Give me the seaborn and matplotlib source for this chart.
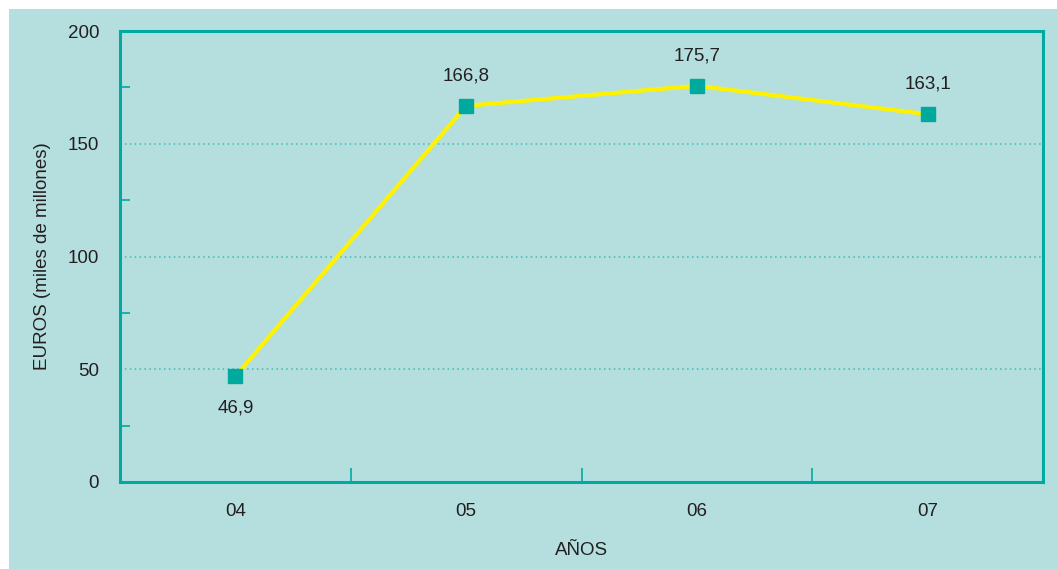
import matplotlib
matplotlib.use("Agg")
import matplotlib.pyplot as plt
import matplotlib.patches as mpatches
from matplotlib.ticker import FixedLocator
import seaborn as sns
import pandas as pd

years = ["04", "05", "06", "07"]
values = [46.9, 166.8, 175.7, 163.1]
value_labels = ["46,9", "166,8", "175,7", "163,1"]
y_ticks = [0, 50, 100, 150, 200]

sns.set_theme(style="white")
plt.rcParams['font.family'] = ['Liberation Sans', 'DejaVu Sans']

BG = "#b5dfdf"
TEAL = "#00aaa0"
YELLOW = "#fff200"
MARK = "#00a99d"
TXT = "#231f20"
FS = 13.5

W, H = 1057, 569
fig = plt.figure(figsize=(W/100, H/100), dpi=100)
fig.patch.set_facecolor("white")
fig.patches.append(mpatches.Rectangle((9/W, 0), 1 - 9/W, (H-9)/H, transform=fig.transFigure,
                                      facecolor=BG, edgecolor="none", zorder=-10))
ax = fig.add_axes([120/W, 1 - 482/H, (1043-120)/W, (482-31)/H])
ax.set_facecolor(BG)

df = pd.DataFrame({"x": list(range(len(years))), "y": values})
sns.lineplot(data=df, x="x", y="y", ax=ax, color=YELLOW, linewidth=3, zorder=3)
ax.plot(df["x"], df["y"], linestyle="none", marker="s", markersize=9.5,
        markerfacecolor=MARK, markeredgecolor=MARK, zorder=4)

for i, (v, lab) in enumerate(zip(values, value_labels)):
    off = -32 if i == 0 else 30
    ax.annotate(lab, (i, v), xytext=(0, off * 72 / 100), textcoords="offset points",
                ha="center", va="center", fontsize=FS, color=TXT)

ax.set_xlim(-0.5, len(years) - 0.5)
ax.set_ylim(0, 200)

for g in [50, 100, 150]:
    ax.axhline(g, color="#3cbcb4", linestyle=(0, (1, 2.2)), linewidth=1.1, zorder=1)

ax.set_yticks(y_ticks)
ax.set_yticklabels([str(t) for t in y_ticks])
ax.yaxis.set_minor_locator(FixedLocator([25, 75, 125, 175]))
ax.set_xticks(range(len(years)))
ax.set_xticklabels(years)
ax.xaxis.set_minor_locator(FixedLocator([0.5, 1.5, 2.5]))
ax.tick_params(axis="both", which="major", length=0, pad=15, labelsize=FS, labelcolor=TXT)
ax.tick_params(axis="y", which="minor", direction="in", length=7, width=1.2, color=TEAL, left=True)
ax.tick_params(axis="x", which="minor", direction="in", length=10, width=1.2, color=TEAL, bottom=True)

for s in ax.spines.values():
    s.set_color(TEAL)
    s.set_linewidth(2.2)

ax.set_xlabel("AÑOS", fontsize=FS, color=TXT, labelpad=16)
ax.set_ylabel("EUROS (miles de millones)", fontsize=FS, color=TXT, labelpad=12)

fig.savefig("out.png", dpi=100, facecolor=fig.get_facecolor())
